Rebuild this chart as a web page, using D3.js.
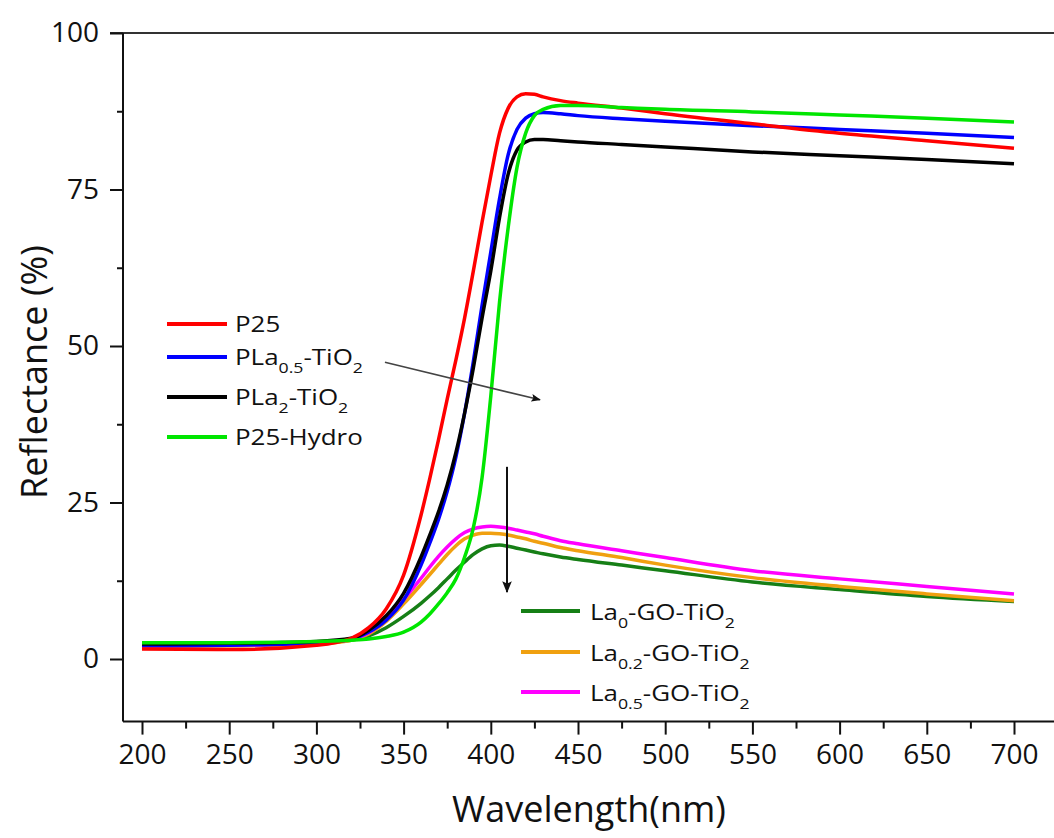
<!DOCTYPE html>
<html>
<head>
<meta charset="utf-8">
<script src="https://cdn.jsdelivr.net/npm/d3@7"></script>
<style>
  body { margin: 0; background: #fff; }
  text { font-family: "Open Sans", "Noto Sans", sans-serif; fill: #111; }
</style>
</head>
<body>
<svg id="chart" width="1054" height="838"></svg>
<script>
const wavelengths = [200, 250, 300, 320, 330, 340, 350, 360, 365, 370, 375, 380, 385, 390, 395,
  400, 405, 410, 415, 420, 425, 430, 440, 450, 475, 500, 550, 600, 650, 700];

const p25 = [1.6, 1.5, 2.2, 3.3, 5.0, 8.0, 13.4, 23.0, 28.8, 35.0, 41.5, 47.8, 54.5, 62.0, 69.8,
  77.2, 84.0, 88.0, 89.8, 90.3, 90.2, 89.8, 89.2, 88.8, 88.0, 87.1, 85.5, 84.0, 82.8, 81.6];
const pla05 = [2.1, 2.2, 2.6, 3.2, 4.3, 6.2, 9.4, 15.0, 18.5, 22.3, 26.8, 32.3, 39.3, 47.5, 56.5,
  65.0, 73.5, 80.6, 84.6, 86.4, 87.1, 87.3, 87.1, 86.8, 86.3, 85.9, 85.2, 84.6, 84.0, 83.3];
const pla2 = [2.4, 2.5, 2.8, 3.3, 4.6, 6.9, 10.5, 16.3, 19.8, 23.5, 27.8, 33.0, 39.3, 46.5, 54.5,
  62.0, 70.5, 77.5, 81.3, 82.6, 83.0, 83.0, 82.8, 82.6, 82.2, 81.8, 81.0, 80.4, 79.8, 79.1];
const p25Hydro = [2.6, 2.6, 2.8, 3.0, 3.2, 3.6, 4.3, 5.9, 7.2, 8.8, 10.6, 12.8, 16.3, 21.0, 29.0,
  42.0, 57.0, 69.0, 78.5, 84.0, 86.8, 87.8, 88.4, 88.4, 88.1, 87.8, 87.4, 86.9, 86.4, 85.8];
const la0 = [2.3, 2.4, 2.6, 3.0, 3.7, 5.0, 6.8, 8.9, 10.1, 11.4, 12.8, 14.2, 15.5, 16.7, 17.6,
  18.1, 18.2, 18.0, 17.7, 17.4, 17.1, 16.8, 16.3, 15.9, 15.0, 14.1, 12.3, 11.1, 10.0, 9.2];
const la02 = [2.0, 2.1, 2.4, 3.0, 4.0, 6.0, 8.8, 11.9, 13.5, 15.1, 16.7, 18.1, 19.2, 19.8, 20.1,
  20.1, 20.0, 19.8, 19.5, 19.2, 18.8, 18.5, 17.8, 17.3, 16.2, 15.0, 13.0, 11.6, 10.4, 9.3];
const la05 = [2.1, 2.2, 2.5, 3.1, 4.2, 6.4, 9.5, 12.9, 14.7, 16.4, 17.9, 19.2, 20.2, 20.8, 21.1,
  21.2, 21.1, 20.9, 20.6, 20.3, 20.0, 19.6, 18.9, 18.4, 17.3, 16.2, 14.1, 12.8, 11.6, 10.4];

const xTicks = [200, 250, 300, 350, 400, 450, 500, 550, 600, 650, 700];
const yTicks = [0, 25, 50, 75, 100];

// drawing order: lower group first, then the bright curves
const series = [
  { name: 'La0-GO-TiO2', values: la0, color: '#167f16' },
  { name: 'La0.2-GO-TiO2', values: la02, color: '#f0a010' },
  { name: 'La0.5-GO-TiO2', values: la05, color: '#ff00ff' },
  { name: 'PLa0.5-TiO2', values: pla05, color: '#0000ff' },
  { name: 'PLa2-TiO2', values: pla2, color: '#000000' },
  { name: 'P25', values: p25, color: '#ff0000' },
  { name: 'P25-Hydro', values: p25Hydro, color: '#00e600' }
];

// legend entries: [text, isSubscript]
const legendTop = [
  { parts: [['P25', false]], color: '#ff0000', y: 324 },
  { parts: [['PLa', false], ['0.5', true], ['-TiO', false], ['2', true]], color: '#0000ff', y: 357 },
  { parts: [['PLa', false], ['2', true], ['-TiO', false], ['2', true]], color: '#000000', y: 397 },
  { parts: [['P25-Hydro', false]], color: '#00e600', y: 437 }
];
const legendBottom = [
  { parts: [['La', false], ['0', true], ['-GO-TiO', false], ['2', true]], color: '#167f16', y: 611 },
  { parts: [['La', false], ['0.2', true], ['-GO-TiO', false], ['2', true]], color: '#f0a010', y: 652 },
  { parts: [['La', false], ['0.5', true], ['-GO-TiO', false], ['2', true]], color: '#ff00ff', y: 692 }
];

// annotation arrows in data units [wavelength, reflectance]
const arrowShift = [[339.3, 47.4], [428.2, 41.4]];
const arrowDrop = [[409.3, 30.7], [409.3, 10.7]];

const svg = d3.select('#chart');
const width = 1054;

const x = d3.scaleLinear().domain([200, 700]).range([142, 1014]);
const y = d3.scaleLinear().domain([0, 100]).range([659, 33]);
const plotLeft = 123;
const plotBottom = y(-10);
const plotTop = y(100);

svg.append('defs').append('marker')
  .attr('id', 'head')
  .attr('viewBox', '0 0 10 10')
  .attr('refX', 9).attr('refY', 5)
  .attr('markerWidth', 6).attr('markerHeight', 6)
  .attr('markerUnits', 'strokeWidth')
  .attr('orient', 'auto')
  .append('path')
  .attr('d', 'M0,1 L10,5 L0,9 L2,5 Z')
  .attr('fill', '#111');

// frame lines
svg.append('line')
  .attr('x1', plotLeft - 13).attr('x2', width)
  .attr('y1', plotTop).attr('y2', plotTop)
  .attr('stroke', '#333').attr('stroke-width', 2);

const yAxis = svg.append('g')
  .attr('transform', `translate(${plotLeft},0)`)
  .call(d3.axisLeft(y).tickValues(yTicks).tickSize(13).tickPadding(11).tickFormat(d3.format('d')));
yAxis.select('.domain').remove();
yAxis.selectAll('line').attr('stroke', '#111').attr('stroke-width', 2);
yAxis.selectAll('text').attr('font-size', 28).style('font-family', '"Open Sans", sans-serif');

const yMinor = svg.append('g')
  .attr('transform', `translate(${plotLeft},0)`)
  .call(d3.axisLeft(y).tickValues([12.5, 37.5, 62.5, 87.5]).tickSize(6).tickFormat(''));
yMinor.select('.domain').remove();
yMinor.selectAll('line').attr('stroke', '#111').attr('stroke-width', 2);

svg.append('line')
  .attr('x1', plotLeft).attr('x2', plotLeft)
  .attr('y1', plotTop).attr('y2', plotBottom)
  .attr('stroke', '#111').attr('stroke-width', 2);

const xAxis = svg.append('g')
  .attr('transform', `translate(0,${plotBottom})`)
  .call(d3.axisBottom(x).tickValues(xTicks).tickSize(13).tickPadding(10).tickFormat(d3.format('d')));
xAxis.select('.domain').remove();
xAxis.selectAll('line').attr('stroke', '#111').attr('stroke-width', 2);
xAxis.selectAll('text').attr('font-size', 28).style('font-family', '"Open Sans", sans-serif');

const xMinor = svg.append('g')
  .attr('transform', `translate(0,${plotBottom})`)
  .call(d3.axisBottom(x).tickValues(d3.range(225, 725, 50)).tickSize(7).tickFormat(''));
xMinor.select('.domain').remove();
xMinor.selectAll('line').attr('stroke', '#111').attr('stroke-width', 2);

svg.append('line')
  .attr('x1', plotLeft).attr('x2', width)
  .attr('y1', plotBottom).attr('y2', plotBottom)
  .attr('stroke', '#111').attr('stroke-width', 2);

// axis titles
svg.append('text')
  .attr('x', 589).attr('y', 822)
  .attr('text-anchor', 'middle')
  .attr('font-size', 36)
  .text('Wavelength(nm)');

svg.append('text')
  .attr('transform', 'translate(47,372) rotate(-90)')
  .attr('text-anchor', 'middle')
  .attr('font-size', 36)
  .text('Reflectance (%)');

// curves
const line = d3.line()
  .x((d, i) => x(wavelengths[i]))
  .y(d => y(d))
  .curve(d3.curveMonotoneX);

svg.append('g')
  .selectAll('path')
  .data(series)
  .join('path')
  .attr('d', d => line(d.values))
  .attr('fill', 'none')
  .attr('stroke', d => d.color)
  .attr('stroke-width', 3.5)
  .attr('stroke-linejoin', 'round');

// arrows
const arrowLine = d3.line().x(d => x(d[0])).y(d => y(d[1]));
svg.append('path')
  .attr('d', arrowLine(arrowShift))
  .attr('stroke', '#444').attr('stroke-width', 1.6)
  .attr('fill', 'none')
  .attr('marker-end', 'url(#head)');
svg.append('path')
  .attr('d', arrowLine(arrowDrop))
  .attr('stroke', '#111').attr('stroke-width', 2)
  .attr('fill', 'none')
  .attr('marker-end', 'url(#head)');

// legends (text is a bit wider than the font, so stretch horizontally)
function drawLegend(entries, lineX0, lineX1, textX, baselineOffset) {
  const g = svg.append('g');
  entries.forEach(e => {
    g.append('line')
      .attr('x1', lineX0).attr('x2', lineX1)
      .attr('y1', e.y).attr('y2', e.y)
      .attr('stroke', e.color).attr('stroke-width', 4);
    const t = g.append('text')
      .attr('transform', `translate(${textX},${e.y + baselineOffset}) scale(1.18,1)`)
      .attr('font-size', 22);
    e.parts.forEach(([s, sub], i) => {
      const prevSub = i > 0 && e.parts[i - 1][1];
      const ts = t.append('tspan').text(s);
      if (sub) ts.attr('font-size', 15).attr('dy', 8);
      else if (prevSub) ts.attr('dy', -8);
    });
  });
}
drawLegend(legendTop, 167, 227, 235, 8);
drawLegend(legendBottom, 521, 580, 590, 9);
</script>
</body>
</html>
